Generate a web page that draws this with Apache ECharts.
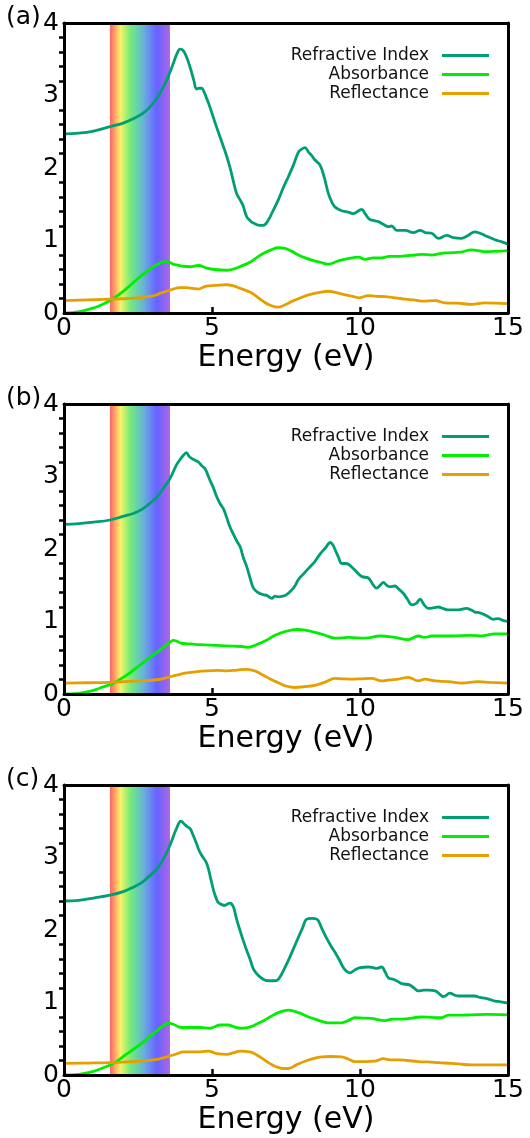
<!DOCTYPE html>
<html>
<head>
<meta charset="utf-8">
<script src="https://cdn.jsdelivr.net/npm/echarts@6/dist/echarts.min.js"></script>
<style>
html,body{margin:0;padding:0;background:#fff;}
#chart{width:530px;height:1138px;}
</style>
</head>
<body>
<div id="chart"></div>
<script>
// ---------- DATA ----------
const panelLabels = ['(a)', '(b)', '(c)'];
const seriesNames = ['Refractive Index', 'Absorbance', 'Reflectance'];
const xTickValues = [0, 5, 10, 15];
const yTickValues = [0, 1, 2, 3, 4];
const visibleBand = [1.55, 3.58]; // eV

// Panel (a)
const aRefrE = [0,0.5,1.0,1.55,2.0,2.34,2.65,2.9,3.1,3.24,3.4,3.52,3.69,3.82,3.92,4.03,4.15,4.26,4.38,4.48,4.56,4.65,4.72,4.82,4.93,5.1,5.27,5.45,5.6,5.72,5.83,5.95,6.05,6.17,6.3,6.4,6.6,6.73,6.9,7.05,7.24,7.4,7.58,7.75,7.92,8.03,8.14,8.26,8.37,8.48,8.65,8.8,8.93,9.05,9.16,9.38,9.6,9.78,9.95,10.06,10.17,10.3,10.4,10.62,10.8,10.96,11.07,11.24,11.53,11.8,12.03,12.2,12.42,12.65,12.93,13.15,13.43,13.65,13.88,14.05,14.22,14.56,14.8,15.0];
const aRefrV = [2.47,2.48,2.51,2.57,2.62,2.68,2.75,2.84,2.94,3.03,3.15,3.26,3.44,3.58,3.64,3.62,3.52,3.39,3.22,3.09,3.10,3.10,3.06,2.96,2.84,2.63,2.43,2.22,2.02,1.82,1.65,1.56,1.48,1.33,1.27,1.24,1.21,1.21,1.28,1.40,1.56,1.72,1.88,2.04,2.22,2.26,2.28,2.22,2.17,2.11,2.04,1.86,1.65,1.53,1.46,1.41,1.39,1.37,1.41,1.43,1.37,1.30,1.28,1.26,1.22,1.19,1.20,1.14,1.14,1.11,1.14,1.11,1.10,1.03,1.07,1.04,1.03,1.07,1.12,1.10,1.07,1.01,0.98,0.95];
const aAbsE = [0,0.3,0.65,1.0,1.2,1.67,2.12,2.57,3.02,3.25,3.4,3.5,3.69,3.85,4.03,4.26,4.54,4.82,5.1,5.5,5.75,5.95,6.28,6.5,6.73,7.0,7.24,7.47,7.7,7.92,8.15,8.37,8.65,8.93,9.27,9.6,9.95,10.17,10.45,10.73,11.0,11.29,11.55,11.86,12.1,12.42,12.7,12.98,13.4,13.77,14.0,14.22,14.6,15];
const aAbsV = [0,0.005,0.03,0.07,0.10,0.20,0.34,0.50,0.64,0.69,0.71,0.71,0.675,0.66,0.645,0.64,0.655,0.62,0.60,0.59,0.61,0.64,0.70,0.76,0.82,0.87,0.90,0.89,0.85,0.80,0.76,0.73,0.70,0.675,0.72,0.75,0.77,0.74,0.76,0.76,0.78,0.78,0.79,0.80,0.81,0.80,0.82,0.83,0.84,0.87,0.86,0.845,0.85,0.86];
const aRefE = [0,0.8,1.55,2.57,3.0,3.24,3.45,3.69,3.9,4.14,4.35,4.54,4.7,4.82,5.1,5.5,5.75,5.95,6.28,6.5,6.73,6.95,7.24,7.45,7.7,8.0,8.26,8.6,8.93,9.2,9.5,9.75,9.95,10.28,10.55,10.84,11.2,11.53,11.8,12.09,12.54,12.87,13.3,13.77,14.22,14.6,15];
const aRefV = [0.17,0.18,0.19,0.21,0.235,0.27,0.30,0.33,0.35,0.35,0.34,0.33,0.355,0.37,0.38,0.39,0.37,0.34,0.29,0.23,0.16,0.11,0.08,0.11,0.16,0.21,0.25,0.28,0.30,0.28,0.25,0.23,0.21,0.24,0.23,0.225,0.21,0.19,0.18,0.165,0.17,0.14,0.135,0.12,0.14,0.135,0.13];

// Panel (b)
const bRefrE = [0,0.5,1.0,1.55,2.0,2.34,2.65,2.9,3.15,3.36,3.58,3.8,3.95,4.05,4.14,4.22,4.31,4.45,4.54,4.65,4.76,4.85,4.93,5.05,5.16,5.28,5.38,5.5,5.6,5.75,5.85,5.95,6.06,6.17,6.3,6.4,6.55,6.73,6.85,7.02,7.13,7.24,7.4,7.52,7.66,7.8,7.92,8.1,8.3,8.48,8.65,8.82,9.0,9.08,9.16,9.27,9.38,9.5,9.61,9.8,10.06,10.28,10.42,10.56,10.68,10.79,10.9,11.01,11.18,11.3,11.46,11.6,11.75,11.9,12.03,12.15,12.31,12.5,12.65,12.8,12.98,13.32,13.6,13.75,13.88,14.05,14.22,14.36,14.5,14.67,14.8,15];
const bRefrV = [2.34,2.35,2.37,2.40,2.45,2.49,2.55,2.63,2.72,2.84,2.97,3.16,3.25,3.30,3.33,3.28,3.25,3.22,3.20,3.15,3.11,3.03,2.95,2.84,2.72,2.62,2.56,2.43,2.31,2.18,2.10,2.03,1.88,1.76,1.58,1.46,1.40,1.37,1.36,1.32,1.35,1.34,1.35,1.37,1.42,1.49,1.58,1.66,1.75,1.83,1.93,2.01,2.09,2.06,1.99,1.89,1.80,1.80,1.79,1.72,1.62,1.60,1.52,1.46,1.50,1.54,1.50,1.48,1.49,1.45,1.39,1.31,1.23,1.25,1.31,1.24,1.18,1.19,1.20,1.18,1.16,1.16,1.18,1.16,1.13,1.12,1.09,1.06,1.03,1.04,1.02,1.00];
const bAbsE = [0,0.5,0.9,1.2,1.67,2.12,2.57,3.02,3.47,3.6,3.69,3.8,3.97,4.3,4.59,5.16,5.72,6.0,6.23,6.5,6.79,7.13,7.47,7.86,8.15,8.48,8.82,9.16,9.61,10.17,10.67,11.18,11.63,11.97,12.2,12.42,13.1,13.77,14.1,14.56,15];
const bAbsV = [0,0.01,0.04,0.08,0.15,0.26,0.40,0.54,0.68,0.72,0.74,0.73,0.70,0.69,0.68,0.67,0.66,0.655,0.645,0.68,0.73,0.81,0.86,0.89,0.88,0.85,0.81,0.77,0.78,0.77,0.80,0.78,0.75,0.80,0.78,0.80,0.80,0.81,0.80,0.83,0.83];
const bRefE = [0,0.8,1.55,2.57,3.2,3.47,3.8,4.14,4.5,4.82,5.2,5.5,5.85,6.17,6.35,6.5,6.73,7.0,7.24,7.5,7.8,8.1,8.48,8.8,9.16,9.4,9.72,10.05,10.4,10.73,11.0,11.29,11.63,11.97,12.2,12.54,13.0,13.43,13.99,14.4,15];
const bRefV = [0.15,0.155,0.16,0.18,0.20,0.225,0.26,0.29,0.31,0.32,0.325,0.32,0.33,0.34,0.33,0.31,0.26,0.20,0.155,0.11,0.09,0.10,0.12,0.16,0.215,0.21,0.205,0.21,0.215,0.18,0.195,0.205,0.23,0.18,0.205,0.18,0.17,0.15,0.17,0.16,0.15];

// Panel (c)
const cRefrE = [0,0.5,1.0,1.55,2.0,2.34,2.65,2.9,3.15,3.36,3.58,3.8,3.95,4.09,4.18,4.26,4.37,4.48,4.56,4.65,4.82,4.95,5.05,5.13,5.21,5.33,5.44,5.52,5.6,5.72,5.83,5.95,6.06,6.17,6.3,6.4,6.55,6.73,6.88,7.02,7.13,7.24,7.4,7.58,7.75,7.92,8.06,8.2,8.37,8.54,8.7,8.88,9.02,9.16,9.3,9.44,9.55,9.67,9.83,10.0,10.28,10.45,10.56,10.73,10.85,10.96,11.13,11.28,11.41,11.69,11.85,11.97,12.15,12.31,12.54,12.68,12.82,13.04,13.2,13.32,13.6,13.88,14.05,14.22,14.4,14.56,14.75,15];
const cRefrV = [2.40,2.41,2.44,2.48,2.53,2.59,2.66,2.75,2.85,2.98,3.17,3.40,3.50,3.45,3.42,3.40,3.30,3.19,3.10,3.03,2.92,2.72,2.55,2.45,2.38,2.35,2.34,2.36,2.37,2.32,2.15,1.99,1.85,1.72,1.58,1.46,1.38,1.32,1.30,1.30,1.30,1.32,1.43,1.58,1.74,1.90,2.03,2.15,2.16,2.15,2.03,1.88,1.78,1.69,1.59,1.48,1.43,1.41,1.45,1.48,1.49,1.48,1.47,1.49,1.42,1.34,1.32,1.29,1.26,1.24,1.19,1.16,1.17,1.17,1.16,1.12,1.08,1.13,1.10,1.09,1.09,1.09,1.07,1.06,1.04,1.02,1.01,0.99];
const cAbsE = [0,0.5,0.9,1.2,1.67,2.12,2.57,3.02,3.36,3.52,3.69,3.97,4.3,4.59,4.93,5.27,5.55,5.75,5.95,6.2,6.4,6.6,6.79,7.0,7.24,7.58,7.92,8.2,8.48,8.7,8.93,9.38,9.6,9.83,10.1,10.4,10.84,11.1,11.41,12.09,12.4,12.76,12.98,13.4,13.77,14.3,15];
const cAbsV = [0,0.01,0.04,0.08,0.16,0.29,0.42,0.57,0.68,0.715,0.70,0.655,0.655,0.655,0.645,0.69,0.69,0.665,0.645,0.655,0.68,0.72,0.76,0.81,0.86,0.895,0.86,0.81,0.77,0.74,0.72,0.72,0.75,0.79,0.785,0.78,0.75,0.77,0.77,0.80,0.795,0.79,0.825,0.825,0.83,0.835,0.83];
const cRefE = [0,0.8,1.55,2.57,3.2,3.47,3.8,4.03,4.37,4.6,4.88,5.05,5.16,5.5,5.75,5.95,6.28,6.5,6.73,6.95,7.19,7.4,7.58,7.85,8.14,8.45,8.71,9.0,9.38,9.6,9.83,10.2,10.5,10.79,11.0,11.29,11.6,11.97,12.3,12.65,13.1,13.5,13.77,14.3,15];
const cRefV = [0.16,0.165,0.17,0.19,0.22,0.25,0.29,0.32,0.32,0.32,0.33,0.31,0.295,0.285,0.31,0.33,0.32,0.28,0.22,0.16,0.11,0.09,0.09,0.14,0.19,0.23,0.25,0.255,0.25,0.22,0.185,0.185,0.19,0.225,0.21,0.21,0.20,0.185,0.18,0.17,0.16,0.145,0.14,0.14,0.14];

// ---------- STYLE / LAYOUT ----------
const colors = ['#009E73', '#00ee00', '#E69F00'];
const gridTops = [23, 404, 785];
const gridHeight = 290;
const FONT = 'DejaVu Sans';

const panels = [
  [[aRefrE, aRefrV], [aAbsE, aAbsV], [aRefE, aRefV]],
  [[bRefrE, bRefrV], [bAbsE, bAbsV], [bRefE, bRefV]],
  [[cRefrE, cRefrV], [cAbsE, cAbsV], [cRefE, cRefV]]
];

function pairs(xs, ys) { return xs.map((x, i) => [x, ys[i]]); }

const rainbow = {
  type: 'linear', x: 0, y: 0, x2: 1, y2: 0,
  colorStops: [
    {offset: 0.00, color: '#f46868'},
    {offset: 0.06, color: '#ff8f66'},
    {offset: 0.12, color: '#ffc466'},
    {offset: 0.18, color: '#f6f26a'},
    {offset: 0.26, color: '#b2f06e'},
    {offset: 0.34, color: '#78ea7c'},
    {offset: 0.46, color: '#68d0ac'},
    {offset: 0.56, color: '#66b2d8'},
    {offset: 0.68, color: '#6a84f2'},
    {offset: 0.78, color: '#6464ff'},
    {offset: 0.89, color: '#8a64f4'},
    {offset: 1.00, color: '#ae66e4'}
  ]
};

const grid = [], xAxis = [], yAxis = [], series = [], legend = [], graphic = [];
const axisLineStyle = {show: true, onZero: false, lineStyle: {color: '#000', width: 3}};

panels.forEach((p, i) => {
  grid.push({left: 64, right: 22, top: gridTops[i], height: gridHeight, containLabel: false});
  // bottom x
  xAxis.push({
    type: 'value', gridIndex: i, min: 0, max: 15, interval: 5, position: 'bottom', z: 10,
    axisLine: axisLineStyle,
    axisTick: {show: true, inside: true, length: 6, lineStyle: {color: '#000', width: 2.5}},
    axisLabel: {show: true, fontFamily: FONT, fontSize: 25, color: '#000', margin: 3, showMaxLabel: true, showMinLabel: true,
      formatter: v => xTickValues.indexOf(v) >= 0 ? String(v) : ''},
    splitLine: {show: false},
    name: 'Energy (eV)', nameLocation: 'middle', nameGap: 30,
    nameTextStyle: {fontFamily: FONT, fontSize: 30, color: '#000'}
  });
  // top x (frame)
  xAxis.push({
    type: 'value', gridIndex: i, min: 0, max: 15, position: 'top', z: 10,
    axisLine: axisLineStyle, axisTick: {show: false}, axisLabel: {show: false}, splitLine: {show: false}
  });
  // left y
  yAxis.push({
    type: 'value', gridIndex: i, min: 0, max: 4, interval: 1, position: 'left', z: 10,
    axisLine: axisLineStyle,
    axisTick: {show: false},
    minorTick: {show: true, splitNumber: 5, length: 5, lineStyle: {color: '#000', width: 2.5}},
    axisLabel: {show: true, fontFamily: FONT, fontSize: 25, color: '#000', margin: 5, padding: [6, 0, 0, 0],
      showMaxLabel: true, showMinLabel: true,
      formatter: v => yTickValues.indexOf(v) >= 0 ? String(v) : ''},
    splitLine: {show: false}, minorSplitLine: {show: false}
  });
  // right y (frame)
  yAxis.push({
    type: 'value', gridIndex: i, min: 0, max: 4, position: 'right', z: 10,
    axisLine: axisLineStyle, axisTick: {show: false}, axisLabel: {show: false}, splitLine: {show: false}
  });

  // visible band
  series.push({
    type: 'line', xAxisIndex: 2 * i, yAxisIndex: 2 * i, data: [], z: 1, silent: true,
    markArea: {
      silent: true,
      itemStyle: {color: rainbow, opacity: 1},
      data: [[{xAxis: visibleBand[0], yAxis: 0}, {xAxis: visibleBand[1], yAxis: 4}]]
    }
  });

  p.forEach((s, k) => {
    series.push({
      name: seriesNames[k], type: 'line', xAxisIndex: 2 * i, yAxisIndex: 2 * i,
      data: pairs(s[0], s[1]), showSymbol: false, symbol: 'none',
      smooth: 0.4, z: 3,
      lineStyle: {color: colors[k], width: 2.8}, itemStyle: {color: colors[k]},
      animation: false
    });
  });

  legend.push({
    data: seriesNames, orient: 'vertical', align: 'right',
    right: 36, top: gridTops[i] + 19,
    icon: 'rect', itemWidth: 47, itemHeight: 3, itemGap: 2,
    textStyle: {fontFamily: FONT, fontSize: 17, color: '#111', padding: [0, 8, 0, 0], lineHeight: 17},
    selectedMode: false
  });

  graphic.push({
    type: 'text', left: 6, top: gridTops[i] - 18,
    style: {text: panelLabels[i], font: '25px "DejaVu Sans"', fill: '#000'}
  });
});

const chart = echarts.init(document.getElementById('chart'), null, {renderer: 'canvas'});
chart.setOption({
  animation: false,
  backgroundColor: '#fff',
  color: colors,
  grid, xAxis, yAxis, series, legend, graphic
});
</script>
</body>
</html>
